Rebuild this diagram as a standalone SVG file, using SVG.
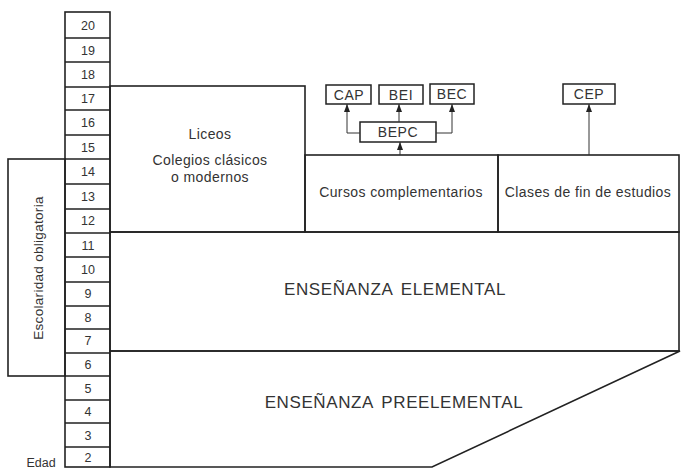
<svg xmlns="http://www.w3.org/2000/svg" width="681" height="469" viewBox="0 0 681 469">
<style>
.ln{fill:none;stroke:#222;stroke-width:1.6}
.bx{fill:#fff;stroke:#222;stroke-width:1.5}
.th{fill:none;stroke:#333;stroke-width:1}
text{font-family:"Liberation Sans",Arial,sans-serif;fill:#333}
.n{font-size:12.5px;text-anchor:middle}
.t{font-size:14px;text-anchor:middle;letter-spacing:0.4px}
.v{font-size:13.5px;text-anchor:middle;letter-spacing:0.3px}
.b{font-size:17px;text-anchor:middle;letter-spacing:0.6px;word-spacing:3px}
.s{font-size:14px;text-anchor:middle;letter-spacing:0.6px}
</style>
<defs>
<marker id="ah" markerWidth="8" markerHeight="6" refX="8" refY="3" orient="auto" markerUnits="userSpaceOnUse" viewBox="0 0 8 6">
<path d="M0,0 L8,3 L0,6 Z" fill="#222"/>
</marker>
</defs>
<rect width="681" height="469" fill="#fff"/>

<g id="escolaridad">
<rect class="ln" x="8" y="159" width="57" height="217"/>
<text class="v" transform="translate(43,268) rotate(-90)">Escolaridad obligatoria</text>
</g>

<g id="edad-col">
<rect class="ln" x="65" y="12" width="45" height="455"/>
<path class="ln" d="M65,38H110M65,62H110M65,87H110M65,110H110M65,135H110M65,159H110M65,184H110M65,209H110M65,233H110M65,257H110M65,282H110M65,306H110M65,329H110M65,353H110M65,376H110M65,400H110M65,423H110M65,447H110"/>
<text class="n" x="88" y="30">20</text>
<text class="n" x="88" y="55">19</text>
<text class="n" x="88" y="79">18</text>
<text class="n" x="88" y="103">17</text>
<text class="n" x="88" y="127">16</text>
<text class="n" x="88" y="152">15</text>
<text class="n" x="88" y="176">14</text>
<text class="n" x="88" y="201">13</text>
<text class="n" x="88" y="225">12</text>
<text class="n" x="88" y="250">11</text>
<text class="n" x="88" y="274">10</text>
<text class="n" x="88" y="298">9</text>
<text class="n" x="88" y="322">8</text>
<text class="n" x="88" y="345">7</text>
<text class="n" x="88" y="369">6</text>
<text class="n" x="88" y="393">5</text>
<text class="n" x="88" y="416">4</text>
<text class="n" x="88" y="440">3</text>
<text class="n" x="88" y="462">2</text>
</g>
<text x="41" y="467" style="font-size:12.5px;text-anchor:middle">Edad</text>

<g id="liceos">
<rect class="ln" x="110" y="86" width="195" height="146"/>
<text class="t" x="210" y="139">Liceos</text>
<text class="t" x="210" y="165">Colegios clásicos</text>
<text class="t" x="210" y="182">o modernos</text>
</g>

<g id="cursos">
<rect class="ln" x="305" y="155" width="193" height="77"/>
<text class="t" x="401" y="197">Cursos complementarios</text>
</g>

<g id="clases">
<rect class="ln" x="498" y="155" width="181" height="77"/>
<text class="t" x="588" y="197">Clases de fin de estudios</text>
</g>

<g id="elemental">
<rect class="ln" x="110" y="232" width="569" height="119"/>
<text class="b" x="395" y="295">ENSEÑANZA ELEMENTAL</text>
</g>

<g id="preelemental">
<path class="ln" d="M110,351H680L432,467H110Z"/>
<text class="b" x="394" y="408">ENSEÑANZA PREELEMENTAL</text>
</g>

<g id="cap"><rect class="bx" x="326" y="85" width="45" height="19"/><text class="s" x="349" y="100">CAP</text></g>
<g id="bei"><rect class="bx" x="379" y="85" width="44" height="19"/><text class="s" x="401" y="100">BEI</text></g>
<g id="bec"><rect class="bx" x="430" y="84" width="44" height="20"/><text class="s" x="452" y="99">BEC</text></g>
<g id="bepc"><rect class="bx" x="360" y="122" width="76" height="20"/><text class="s" x="398" y="137">BEPC</text></g>
<g id="cep"><rect class="bx" x="563" y="84" width="52" height="20"/><text class="s" x="589" y="99">CEP</text></g>

<g id="connectors">
<path class="th" d="M400,155V142" marker-end="url(#ah)"/>
<path class="th" d="M360,133H347V104" marker-end="url(#ah)"/>
<path class="th" d="M399,122V104" marker-end="url(#ah)"/>
<path class="th" d="M436,133H452V104" marker-end="url(#ah)"/>
<path class="th" d="M589,155V104" marker-end="url(#ah)"/>
</g>
</svg>
